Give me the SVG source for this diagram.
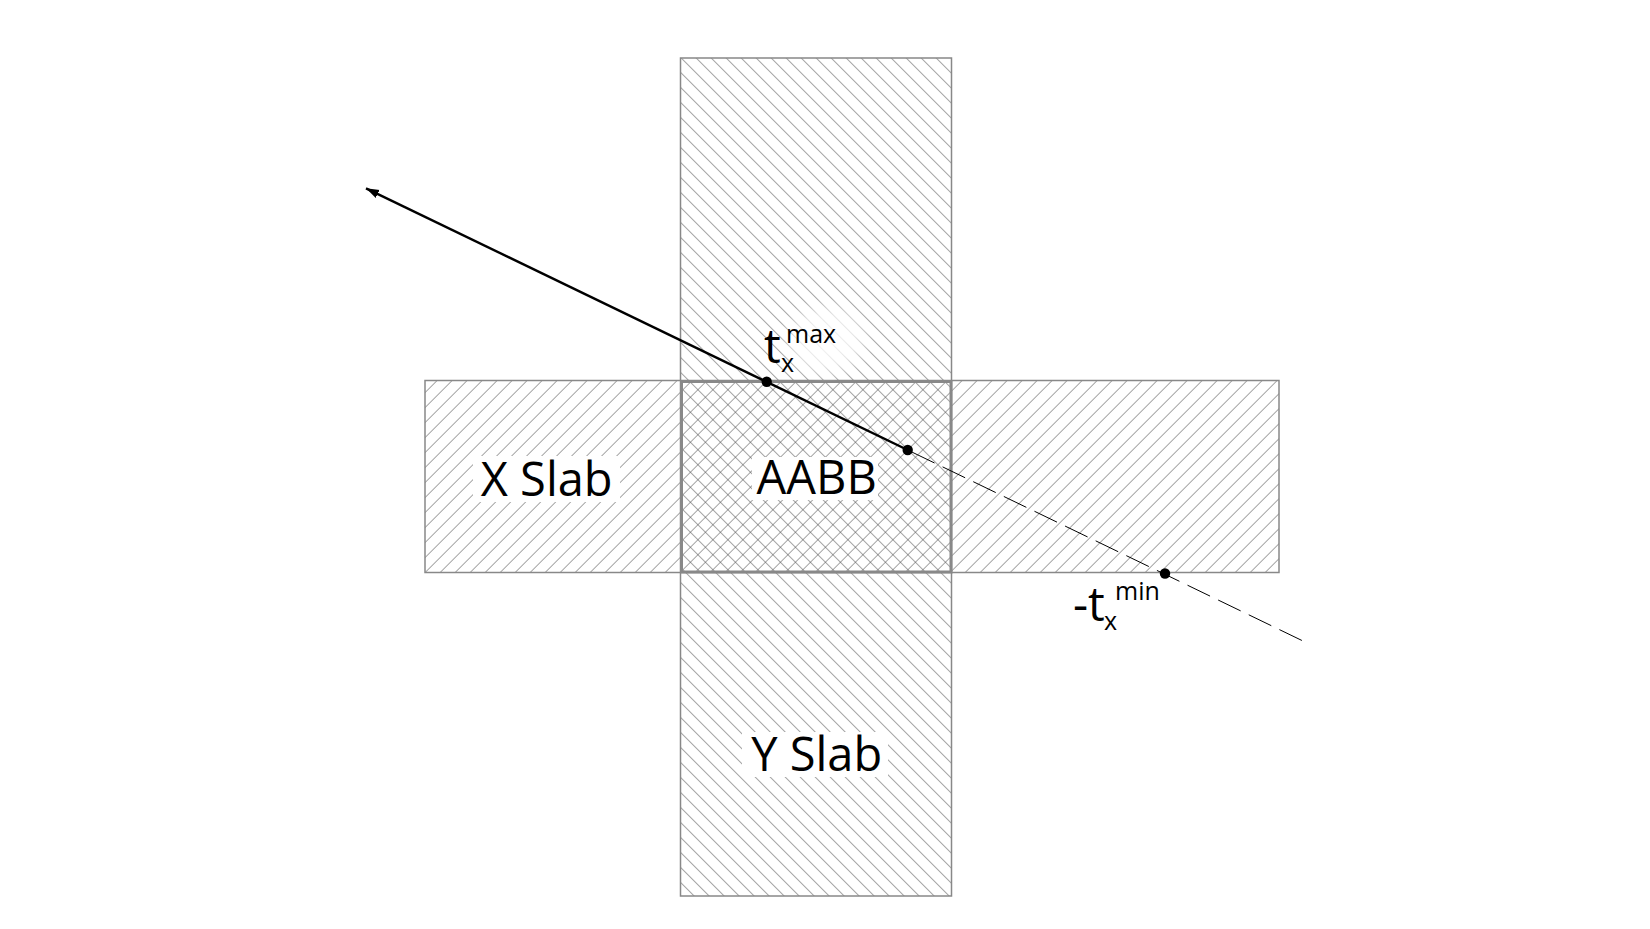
<svg xmlns="http://www.w3.org/2000/svg" width="1650" height="929" viewBox="0 0 1650 929">
<style>
.lbl{font-family:"Open Sans","Liberation Sans",sans-serif;fill:#000;}
.big{font-size:47px;}
.small{font-size:25px;}
.slab{stroke:#888;stroke-width:1.5;}
.bg{fill:#fff;stroke:none;}
</style>
<defs>
<pattern id="hatchBack" patternUnits="userSpaceOnUse" width="10.607" height="10.607" patternTransform="translate(680.5,58) rotate(-45)">
<line x1="0" y1="-1" x2="0" y2="12" stroke="#5a5a5a" stroke-width="1.1"/>
</pattern>
<pattern id="hatchFwd" patternUnits="userSpaceOnUse" width="10.607" height="10.607" patternTransform="translate(425,572) rotate(45)">
<line x1="0" y1="-1" x2="0" y2="12" stroke="#5a5a5a" stroke-width="1.1"/>
</pattern>
<radialGradient id="fade" cx="0.5" cy="0.5" r="0.5">
<stop offset="0" stop-color="#fff" stop-opacity="0.92"/>
<stop offset="0.6" stop-color="#fff" stop-opacity="0.7"/>
<stop offset="1" stop-color="#fff" stop-opacity="0"/>
</radialGradient>
<marker id="arrow" markerUnits="userSpaceOnUse" markerWidth="14" markerHeight="10" refX="13" refY="5" orient="auto">
<path d="M0,0.5 L13,5 L0,9.5 z" fill="#000"/>
</marker>
</defs>
<rect width="1650" height="929" fill="#fff"/>
<g id="x-slab">
<rect x="425" y="380.5" width="854" height="192" fill="url(#hatchFwd)" class="slab"/>
<rect class="bg" x="473" y="456" width="147" height="46"/>
<text class="lbl big" x="546.7" y="496" text-anchor="middle">X Slab</text>
</g>
<g id="y-slab">
<rect x="680.5" y="58" width="271" height="838" fill="url(#hatchBack)" class="slab"/>
<rect class="bg" x="742" y="732" width="146" height="45"/>
<text class="lbl big" x="816.7" y="770.7" text-anchor="middle">Y Slab</text>
</g>
<g id="aabb">
<rect x="681.5" y="381.5" width="269.5" height="190.5" fill="none" stroke="#888" stroke-width="3"/>
<rect class="bg" x="752" y="457" width="126" height="43"/>
<text class="lbl big" x="816.7" y="494.3" text-anchor="middle">AABB</text>
</g>
<g id="connectors">
<line x1="907.7" y1="450" x2="366" y2="188.3" stroke="#000" stroke-width="2.4" marker-end="url(#arrow)"/>
<line x1="912" y1="452.1" x2="1305.7" y2="642.3" stroke="#000" stroke-width="1" stroke-dasharray="25 9"/>
</g>
<g id="tmax">
<ellipse cx="826" cy="340" rx="48" ry="42" fill="url(#fade)"/>
<circle cx="766.7" cy="381.7" r="5.2" fill="#000"/>
<text class="lbl big" x="764" y="363">t</text>
<text class="lbl small" x="781" y="372">x</text>
<text class="lbl small" x="786" y="343">max</text>
</g>
<g id="tmin">
<circle cx="1165" cy="573.5" r="5.2" fill="#000"/>
<circle cx="907.7" cy="450" r="5.2" fill="#000"/>
<text class="lbl big" x="1073" y="621">-t</text>
<text class="lbl small" x="1104" y="630">x</text>
<text class="lbl small" x="1115" y="600">min</text>
</g>
</svg>
